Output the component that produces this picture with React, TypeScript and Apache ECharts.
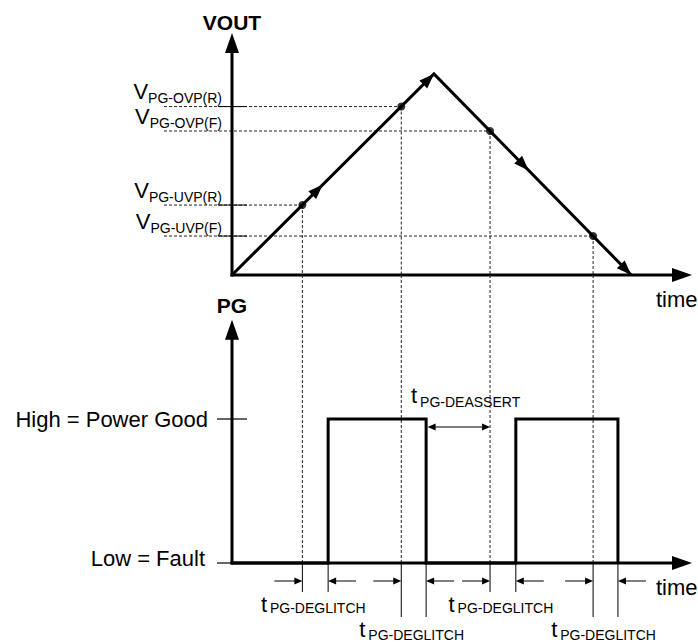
import React, { useEffect, useRef } from 'react';
import * as echarts from 'echarts';

// ---------- data ----------
const TIME_MAX = 100;
const VOUT_MAX = 10;
const PG_MAX = 2;
const PG_AXIS_TOP = 1.69;

const voutTimes = [0, 43.9, 86.8];
const voutValues = [0, 8.31, 0];

const thresholdNames = ['PG-OVP(R)', 'PG-OVP(F)', 'PG-UVP(R)', 'PG-UVP(F)'];
const thresholdValues = [6.96, 5.95, 2.89, 1.61];
const crossingTimes = [36.8, 56.1, 15.3, 78.5];
const thresholdTicks = [true, false, true, true];

const pgEdgeTimes = [20.9, 42.2, 61.7, 83.9];
const pgLevelsAfterEdge = [1, 0, 1, 0];
const pgLevelValues = [0, 1];
const pgLevelNames = ['Low = Fault', 'High = Power Good'];

const deglitchStarts = [15.3, 36.8, 56.1, 78.5];
const deglitchEnds = [20.9, 42.2, 61.7, 83.9];
const deglitchLabel = 'PG-DEGLITCH';
const deassertInterval = [42.2, 56.1];
const deassertLabel = 'PG-DEASSERT';
const axisNames = ['VOUT', 'PG'];
const timeLabel = 'time';

// ---------- style ----------
const FONT = 'Liberation Sans, Arial, Helvetica, sans-serif';
const MID_ARROW = [0.45, 0.48];
const LEVEL_LABEL_DY = [-5, 0];
const LEVEL_LABEL_DX = [-27, -24];

let measureCtx: CanvasRenderingContext2D | null = null;
function measure(s: string, size: number) {
  if (!measureCtx) measureCtx = document.createElement('canvas').getContext('2d');
  if (!measureCtx) return s.length * size * 0.6;
  measureCtx.font = `${size}px "Liberation Sans", Arial, sans-serif`;
  return measureCtx.measureText(s).width;
}

function seg(x1: number, y1: number, x2: number, y2: number, w: number, dash?: number[], color = '#000') {
  return {
    type: 'line',
    shape: { x1, y1, x2, y2 },
    style: { stroke: color, lineWidth: w, lineDash: dash || null, fill: null },
  };
}
function tri(tx: number, ty: number, ux: number, uy: number, len: number, hw: number) {
  const bx = tx - ux * len;
  const by = ty - uy * len;
  const px = -uy;
  const py = ux;
  return {
    type: 'polygon',
    shape: { points: [[tx, ty], [bx + px * hw, by + py * hw], [bx - px * hw, by - py * hw]] },
    style: { fill: '#000' },
  };
}
function txt(s: string, x: number, y: number, size: number, align: string, weight = 'normal') {
  return {
    type: 'text',
    style: {
      text: s, x, y, fontSize: size, fontFamily: FONT, fontWeight: weight, fill: '#000',
      textAlign: align, textVerticalAlign: 'middle', align, verticalAlign: 'middle',
    },
  };
}
function hArrow(from: number, to: number, y: number) {
  const dir = to > from ? 1 : -1;
  return [seg(from, y, to - dir * 6, y, 1), tri(to, y, dir, 0, 8, 3.5)];
}

function renderTop(params: any, api: any) {
  const o = api.coord([0, 0]);
  const axisX = o[0];
  const baseY = o[1];
  const xEnd = api.coord([TIME_MAX, 0])[0];
  const yEnd = api.coord([0, VOUT_MAX])[1];
  const ch: any[] = [];
  // thresholds
  thresholdValues.forEach((v, i) => {
    const [cx, ly] = api.coord([crossingTimes[i], v]);
    ch.push(seg(axisX - 68, ly, cx, ly, 1, [3, 2], '#222'));
    if (thresholdTicks[i]) ch.push(seg(axisX - 14, ly, axisX + 15, ly, 1));
    ch.push(seg(cx, ly, cx, baseY, 1, [3, 2], '#222'));
    const subW = measure(thresholdNames[i], 14);
    ch.push(txt(thresholdNames[i], axisX - 10, ly - 8.4, 14, 'right'));
    ch.push(txt('V', axisX - 10 - subW, ly - 14.6, 22, 'right'));
  });
  // axes
  ch.push(seg(axisX - 1.5, baseY, xEnd - 18, baseY, 3));
  ch.push(tri(xEnd, baseY, 1, 0, 20, 7));
  ch.push(seg(axisX, baseY + 1.5, axisX, yEnd + 18, 3));
  ch.push(tri(axisX, yEnd, 0, -1, 20, 7));
  // arrowheads on VOUT
  for (let i = 0; i < voutTimes.length - 1; i++) {
    const a = api.coord([voutTimes[i], voutValues[i]]);
    const b = api.coord([voutTimes[i + 1], voutValues[i + 1]]);
    const dx = b[0] - a[0];
    const dy = b[1] - a[1];
    const L = Math.hypot(dx, dy);
    const f = MID_ARROW[i] ?? 0.5;
    ch.push(tri(a[0] + dx * f, a[1] + dy * f, dx / L, dy / L, 15, 5.5));
    ch.push(tri(b[0], b[1], dx / L, dy / L, 15, 5.5));
  }
  ch.push(txt(axisNames[0], axisX, yEnd - 10.5, 21, 'center', 'bold'));
  ch.push(txt(timeLabel, xEnd - 36, baseY + 24.5, 22, 'left'));
  return { type: 'group', children: ch };
}

function renderBottom(params: any, api: any) {
  const cs = params.coordSys;
  const o = api.coord([0, 0]);
  const axisX = o[0];
  const baseY = o[1];
  const xEnd = api.coord([TIME_MAX, 0])[0];
  const yTop = api.coord([0, PG_AXIS_TOP])[1];
  const ch: any[] = [];
  // dashed verticals from thresholds
  crossingTimes.forEach((t) => {
    const x = api.coord([t, 0])[0];
    ch.push(seg(x, cs.y, x, baseY, 1, [3, 2], '#222'));
  });
  // axes
  ch.push(seg(axisX - 1.5, baseY, xEnd - 18, baseY, 3));
  ch.push(tri(xEnd, baseY, 1, 0, 20, 7));
  ch.push(seg(axisX, baseY + 1.5, axisX, yTop + 18, 3));
  ch.push(tri(axisX, yTop, 0, -1, 20, 7));
  ch.push(txt(axisNames[1], axisX, yTop - 14, 21, 'center', 'bold'));
  ch.push(txt(timeLabel, xEnd - 36, baseY + 24, 22, 'left'));
  // levels
  pgLevelValues.forEach((v, i) => {
    const ly = api.coord([0, v])[1];
    ch.push(seg(axisX - 15, ly, v ? axisX + 15 : axisX, ly, 1.2));
    ch.push(txt(pgLevelNames[i], axisX + LEVEL_LABEL_DX[i], ly + LEVEL_LABEL_DY[i], 22, 'right'));
  });
  // deglitch intervals
  deglitchStarts.forEach((ts, i) => {
    const xs = api.coord([ts, 0])[0];
    const xe = api.coord([deglitchEnds[i], 0])[0];
    const row = i % 2;
    const tick = row ? 54 : 29;
    ch.push(seg(xs, baseY, xs, baseY + tick, 1));
    ch.push(seg(xe, baseY, xe, baseY + tick, 1));
    ch.push(...hArrow(xs - 28, xs, baseY + 18));
    ch.push(...hArrow(xe + 28, xe, baseY + 18));
    const subW = measure(deglitchLabel, 14);
    const mid = (xs + xe) / 2 - 2;
    const tx = mid - (9 + subW) / 2;
    ch.push(txt('t', tx, baseY + (row ? 66.5 : 41.5), 22, 'left'));
    ch.push(txt(deglitchLabel, tx + 9, baseY + (row ? 72 : 45), 14, 'left'));
  });
  // deassert
  const [xa, hy] = api.coord([deassertInterval[0], 1]);
  const xb = api.coord([deassertInterval[1], 0])[0];
  const ay = hy + 8;
  ch.push(seg(xa + 8, ay, xb - 8, ay, 1));
  ch.push(tri(xa + 1.5, ay, -1, 0, 8, 3.5));
  ch.push(tri(xb, ay, 1, 0, 8, 3.5));
  ch.push(txt('t', xa - 15, hy - 24, 22, 'left'));
  ch.push(txt(deassertLabel, xa - 6, hy - 17, 14, 'left'));
  return { type: 'group', children: ch };
}

const pgData = [[0, 0], ...pgEdgeTimes.map((t, i) => [t, pgLevelsAfterEdge[i]])];
const voutData = voutTimes.map((t, i) => [t, voutValues[i]]);
const dotData = crossingTimes.map((t, i) => [t, thresholdValues[i]]);

const option: any = {
  animation: false,
  backgroundColor: '#fff',
  grid: [
    { left: 232, top: 33, width: 460, height: 242, outerBoundsMode: 'none', containLabel: false },
    { left: 232, top: 275, width: 460, height: 288, outerBoundsMode: 'none', containLabel: false },
  ],
  xAxis: [
    { type: 'value', gridIndex: 0, min: 0, max: TIME_MAX, show: false },
    { type: 'value', gridIndex: 1, min: 0, max: TIME_MAX, show: false },
  ],
  yAxis: [
    { type: 'value', gridIndex: 0, min: 0, max: VOUT_MAX, show: false },
    { type: 'value', gridIndex: 1, min: 0, max: PG_MAX, show: false },
  ],
  series: [
    {
      type: 'custom', xAxisIndex: 0, yAxisIndex: 0, data: [[0, 0]], renderItem: renderTop,
      silent: true, z: 1, clip: false,
    },
    {
      type: 'custom', xAxisIndex: 1, yAxisIndex: 1, data: [[0, 0]], renderItem: renderBottom,
      silent: true, z: 1, clip: false,
    },
    {
      type: 'line', xAxisIndex: 0, yAxisIndex: 0, data: voutData, symbol: 'none', clip: false,
      lineStyle: { color: '#000', width: 3, join: 'miter' }, silent: true, z: 2,
    },
    {
      type: 'line', xAxisIndex: 1, yAxisIndex: 1, data: pgData, step: 'end', symbol: 'none', clip: false,
      lineStyle: { color: '#000', width: 3, join: 'miter' }, silent: true, z: 2,
    },
    {
      type: 'scatter', xAxisIndex: 0, yAxisIndex: 0, data: dotData, symbolSize: 8, clip: false,
      itemStyle: { color: '#000' }, silent: true, z: 3,
    },
  ],
};

export default function App() {
  const ref = useRef<HTMLDivElement>(null);
  useEffect(() => {
    if (!ref.current) return;
    const chart = echarts.init(ref.current, null, { renderer: 'svg' });
    chart.setOption(option);
    return () => chart.dispose();
  }, []);
  return (
    <div
      ref={ref}
      style={{ position: 'fixed', left: 0, top: 0, width: 698, height: 642, background: '#fff' }}
    />
  );
}
